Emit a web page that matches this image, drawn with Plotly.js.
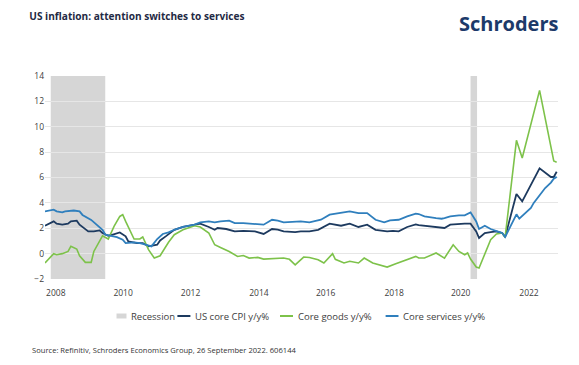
<!DOCTYPE html>
<html>
<head>
<meta charset="utf-8">
<script src="https://cdn.plot.ly/plotly-3.0.1.min.js"></script>
<style>
  html, body { margin: 0; padding: 0; background: #ffffff; }
  #chart { width: 579px; height: 365px; }
</style>
</head>
<body>
<div id="chart"></div>
<script>
// ---------------- DATA ----------------
const chartTitle = 'US inflation: attention switches to services';
const brandText = 'Schroders';
const sourceText = 'Source: Refinitiv, Schroders Economics Group, 26 September 2022. 606144';

const seriesNames = ['US core CPI y/y%', 'Core goods y/y%', 'Core services y/y%'];
const recessionName = 'Recession';

const recessionStarts = ['2007-12-01', '2020-02-01'];
const recessionEnds   = ['2009-06-30', '2020-04-10'];

const xTickDates  = ['2008-01-23','2010-01-05','2011-12-20','2013-12-13','2015-11-20','2017-11-14','2019-10-20','2021-10-12'];
const xTickLabels = ['2008','2010','2012','2014','2016','2018','2020','2022'];
const yTickValues = [-2, 0, 2, 4, 6, 8, 10, 12, 14];

const cpiDates = ['2007-10','2007-12','2008-01','2008-02','2008-04','2008-06','2008-07','2008-09','2008-10',
  '2009-01','2009-03','2009-05','2009-06','2009-08','2009-09','2009-12','2010-02','2010-03','2010-06','2010-08',
  '2010-10','2011-01','2011-02','2011-04','2011-07','2011-10','2012-02','2012-04','2012-07','2012-09','2012-10',
  '2013-01','2013-04','2013-07','2013-11','2014-02','2014-05','2014-07','2014-09','2015-01','2015-03','2015-06',
  '2015-09','2016-01','2016-05','2016-08','2016-11','2017-02','2017-05','2017-09','2017-11','2018-01','2018-04',
  '2018-07','2018-08','2018-10','2019-02','2019-05','2019-07','2019-10','2019-12','2020-02','2020-04','2020-05',
  '2020-07','2020-09','2020-11','2021-01','2021-02','2021-06','2021-08','2022-02','2022-06','2022-07','2022-08'];
const cpiValues = [2.2,2.41,2.54,2.36,2.28,2.36,2.54,2.6,2.28,
  1.75,1.75,1.83,1.62,1.41,1.45,1.67,1.36,0.96,0.83,0.83,
  0.57,0.7,1.04,1.36,1.88,2.1,2.28,2.36,2.1,1.88,2.02,
  1.94,1.75,1.8,1.75,1.55,1.94,1.9,1.75,1.7,1.75,1.75,
  1.88,2.36,2.2,2.36,2.1,2.28,1.88,1.75,1.8,1.75,2.1,
  2.3,2.25,2.2,2.15,2.02,2.28,2.36,2.36,2.36,1.75,1.23,
  1.62,1.7,1.75,1.62,1.31,4.7,4.12,6.72,6.04,6.04,6.45];

const goodsDates = ['2007-10','2007-12','2008-01','2008-02','2008-04','2008-06','2008-07','2008-09','2008-10',
  '2008-12','2009-02','2009-03','2009-05','2009-06','2009-08','2009-10','2009-12','2010-01','2010-02','2010-04',
  '2010-05','2010-07','2010-08','2010-10','2010-12','2011-02','2011-03','2011-05','2011-07','2011-10','2012-02',
  '2012-04','2012-07','2012-09','2012-11','2013-02','2013-05','2013-07','2013-09','2013-12','2014-02','2014-06',
  '2014-09','2014-11','2015-01','2015-04','2015-06','2015-09','2015-11','2016-02','2016-03','2016-06','2016-08',
  '2016-11','2017-01','2017-04','2017-06','2017-09','2017-12','2018-04','2018-07','2018-08','2018-10','2019-02',
  '2019-05','2019-08','2019-10','2019-12','2020-01','2020-02','2020-04','2020-05','2020-09','2020-11','2021-01',
  '2021-02','2021-06','2021-08','2022-02','2022-07','2022-08'];
const goodsValues = [-0.74,-0.22,0.0,-0.09,0.0,0.17,0.57,0.36,-0.17,
  -0.69,-0.69,0.17,0.96,1.41,1.15,2.15,2.93,3.07,2.54,1.62,
  1.15,1.15,1.31,0.31,-0.35,-0.17,0.17,0.9,1.49,1.88,2.2,
  2.1,1.62,0.7,0.49,0.17,-0.22,-0.15,-0.35,-0.3,-0.43,-0.4,
  -0.35,-0.45,-0.88,-0.27,-0.3,-0.48,-0.74,0.0,-0.45,-0.74,-0.6,
  -0.74,-0.35,-0.74,-0.88,-1.06,-0.8,-0.48,-0.22,-0.35,-0.35,0.05,
  -0.35,0.7,0.17,-0.09,0.05,-0.43,-1.06,-1.14,1.1,1.55,1.62,
  1.28,8.93,7.54,12.87,7.3,7.2];

const servicesDates = ['2007-10','2008-01','2008-02','2008-04','2008-05','2008-08','2008-10','2008-11','2009-02',
  '2009-04','2009-06','2009-07','2009-09','2009-11','2010-01','2010-02','2010-05','2010-07','2010-09','2010-11',
  '2011-01','2011-03','2011-05','2011-07','2011-10','2012-02','2012-04','2012-07','2012-09','2012-11','2013-02',
  '2013-04','2013-07','2013-11','2014-02','2014-05','2014-07','2014-09','2015-01','2015-03','2015-06','2015-10',
  '2016-01','2016-05','2016-08','2016-11','2017-02','2017-05','2017-08','2017-10','2018-01','2018-04','2018-07',
  '2018-08','2018-10','2019-02','2019-04','2019-05','2019-07','2019-10','2019-12','2020-02','2020-04','2020-05',
  '2020-07','2020-09','2020-11','2021-01','2021-02','2021-06','2021-07','2021-09','2021-11','2021-12','2022-02',
  '2022-04','2022-06','2022-07','2022-08'];
const servicesValues = [3.33,3.46,3.33,3.25,3.33,3.4,3.33,3.05,2.66,
  2.27,1.88,1.5,1.41,1.3,1.1,0.83,0.88,0.83,0.7,0.57,
  1.15,1.55,1.67,1.88,2.1,2.28,2.46,2.54,2.46,2.54,2.6,
  2.41,2.41,2.36,2.28,2.67,2.6,2.46,2.55,2.54,2.46,2.67,
  3.07,3.2,3.33,3.2,3.2,2.67,2.46,2.62,2.67,2.93,3.15,
  3.12,2.93,2.8,2.75,2.8,2.93,3.02,3.02,3.25,2.54,1.94,
  2.2,1.94,1.75,1.62,1.31,3.1,2.75,3.2,3.6,4.0,4.6,
  5.17,5.6,5.9,6.05];

// ---------------- STYLE ----------------
const colors = { cpi: '#1d3a5f', goods: '#7dc24a', services: '#2f7fbd', recession: '#d6d6d6' };
const FONT = '"Open Sans", "Noto Sans", sans-serif';
const W = 579, H = 365;
const M = { l: 45, r: 21, t: 76, b: 86 };
const plotW = W - M.l - M.r, plotH = H - M.t - M.b;
const px2x = p => (p - M.l) / plotW;          // pixel -> paper x
const py2y = p => (H - M.b - p) / plotH;       // pixel -> paper y

const traces = [
  { name: seriesNames[0], x: cpiDates, y: cpiValues, type: 'scatter', mode: 'lines',
    line: { color: colors.cpi, width: 1.8 }, showlegend: false },
  { name: seriesNames[1], x: goodsDates, y: goodsValues, type: 'scatter', mode: 'lines',
    line: { color: colors.goods, width: 1.6 }, showlegend: false },
  { name: seriesNames[2], x: servicesDates, y: servicesValues, type: 'scatter', mode: 'lines',
    line: { color: colors.services, width: 1.8 }, showlegend: false }
];

const shapes = recessionStarts.map((s, i) => ({
  type: 'rect', xref: 'x', yref: 'y', x0: s, x1: recessionEnds[i], y0: -2, y1: 14,
  fillcolor: colors.recession, line: { width: 0 }, layer: 'below'
}));

// custom legend row
const legendY = 316;
const legendItems = [
  { kind: 'box',  color: colors.recession, sx: 116.5, ex: 126.5, tx: 129.4, text: recessionName },
  { kind: 'line', color: colors.cpi,       sx: 177.4, ex: 190.4, tx: 193,  text: seriesNames[0] },
  { kind: 'line', color: colors.goods,     sx: 280,   ex: 293,   tx: 295.7, text: seriesNames[1] },
  { kind: 'line', color: colors.services,  sx: 385.6, ex: 398.5, tx: 401,  text: seriesNames[2] }
];
const annotations = [];
legendItems.forEach(it => {
  if (it.kind === 'box') {
    shapes.push({ type: 'rect', xref: 'paper', yref: 'paper',
      x0: px2x(it.sx), x1: px2x(it.ex), y0: py2y(legendY + 2.5), y1: py2y(legendY - 2.5),
      fillcolor: it.color, line: { width: 0 } });
  } else {
    shapes.push({ type: 'line', xref: 'paper', yref: 'paper',
      x0: px2x(it.sx), x1: px2x(it.ex), y0: py2y(legendY), y1: py2y(legendY),
      line: { color: it.color, width: 2 } });
  }
  annotations.push({ xref: 'paper', yref: 'paper', x: px2x(it.tx), y: py2y(legendY),
    xanchor: 'left', yanchor: 'middle', showarrow: false, text: it.text,
    font: { family: FONT, size: 9.5, color: '#404040' } });
});

annotations.push({ xref: 'paper', yref: 'paper', x: px2x(560), y: py2y(23.5),
  xanchor: 'right', yanchor: 'middle', showarrow: false, text: brandText,
  font: { family: FONT, size: 20, color: '#1c3a6a', weight: 700 } });

annotations.push({ xref: 'paper', yref: 'paper', x: px2x(29.6), y: py2y(350),
  xanchor: 'left', yanchor: 'middle', showarrow: false, text: sourceText,
  font: { family: FONT, size: 7.6, color: '#333333' } });

const layout = {
  width: W, height: H,
  margin: M,
  paper_bgcolor: '#ffffff', plot_bgcolor: '#ffffff',
  font: { family: FONT, color: '#404040' },
  title: { text: chartTitle, xref: 'container', yref: 'container', x: 29.3 / W, xanchor: 'left',
    y: 1 - 16 / H, yanchor: 'middle',
    font: { family: FONT, size: 10.1, color: '#1f2a44', weight: 700 } },
  showlegend: false,
  xaxis: { type: 'date', range: ['2007-10-01', '2022-08-15'], tickmode: 'array',
    tickvals: xTickDates, ticktext: xTickLabels, showgrid: false, zeroline: false, showline: false,
    ticks: '', ticklabelstandoff: 7, tickfont: { family: FONT, size: 8.5, color: '#404040' } },
  yaxis: { range: [-2, 14], tickmode: 'array', tickvals: yTickValues, showgrid: true,
    gridcolor: '#e6e6e6', gridwidth: 1, zeroline: false, showline: false, ticks: '',
    tickfont: { family: FONT, size: 8.5, color: '#404040' } },
  shapes: shapes,
  annotations: annotations
};

Plotly.newPlot('chart', traces, layout, { displayModeBar: false, staticPlot: true });
</script>
</body>
</html>
